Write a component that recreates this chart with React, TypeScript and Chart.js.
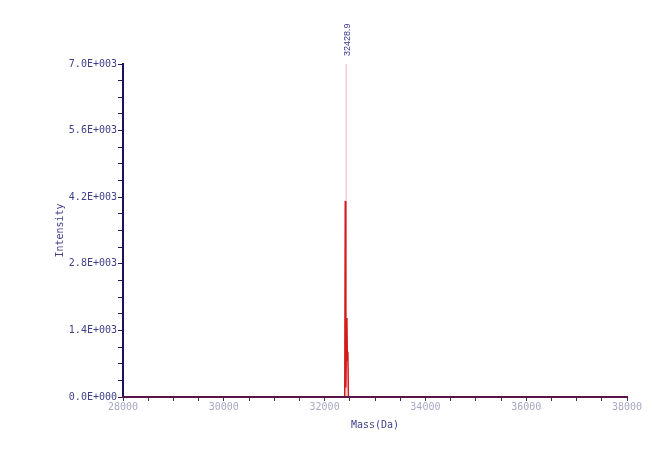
import React, { useEffect, useRef } from 'react';
import { Chart, registerables } from 'chart.js';

Chart.register(...registerables);

// Deconvoluted mass spectrum (Da vs intensity)
const massDa = [28000, 32400, 32410, 32420, 32442, 32452, 32462, 32472, 38000];
const intensity = [0, 0, 4120, 200, 1660, 780, 950, 0, 0];

// Annotated peak marker
const peakMass = 32428.9;
const peakLabel = '32428.9';
const peakMarkerY = [0, 7000];

// Axis ranges / ticks
const xMin = 28000;
const xMax = 38000;
const xTickStep = 500;
const xLabelStep = 2000;
const yMin = 0;
const yMax = 7000;
const yTickStep = 350;
const yLabelStep = 1400;

const xTitle = 'Mass(Da)';
const yTitle = 'Intensity';

function sci(v: number): string {
  if (Math.abs(v) < 1e-9) return '0.0E+000';
  const e = Math.floor(Math.log10(Math.abs(v)) + 1e-9);
  const m = v / Math.pow(10, e);
  return m.toFixed(1) + 'E' + (e < 0 ? '-' : '+') + String(Math.abs(e)).padStart(3, '0');
}

const peakLabelPlugin = {
  id: 'peakLabel',
  afterDatasetsDraw(chart: any) {
    const { ctx, scales } = chart;
    const px = scales.x.getPixelForValue(peakMass);
    const py = scales.y.getPixelForValue(peakMarkerY[1]);
    ctx.save();
    ctx.translate(px + 1, py - 8);
    ctx.rotate(-Math.PI / 2);
    ctx.font = '9px "Liberation Sans", Arial, sans-serif';
    ctx.fillStyle = '#34348a';
    ctx.textAlign = 'left';
    ctx.textBaseline = 'middle';
    ctx.fillText(peakLabel, 0, 0);
    ctx.restore();
  },
};

const bgPlugin = {
  id: 'bg',
  beforeDraw(chart: any) {
    const { ctx, width, height } = chart;
    ctx.save();
    ctx.fillStyle = '#ffffff';
    ctx.fillRect(0, 0, width, height);
    ctx.restore();
  },
};

export default function App() {
  const ref = useRef<HTMLCanvasElement | null>(null);

  useEffect(() => {
    if (!ref.current) return;
    const spectrum = massDa.map((m, i) => ({ x: m, y: intensity[i] }));
    const marker = peakMarkerY.map((v) => ({ x: peakMass, y: v }));
    const mono = '"DejaVu Sans Mono", monospace';

    const chart = new Chart(ref.current, {
      type: 'scatter',
      data: {
        datasets: [
          {
            data: spectrum,
            showLine: true,
            borderColor: '#d41a1a',
            borderWidth: 1.5,
            pointRadius: 0,
            tension: 0,
          },
          {
            data: marker,
            showLine: true,
            borderColor: '#f2b4c4',
            borderWidth: 1,
            pointRadius: 0,
          },
        ],
      },
      options: {
        responsive: false,
        animation: false,
        events: [],
        layout: { padding: { left: 0, top: 64, right: 41, bottom: 0 } },
        plugins: { legend: { display: false }, tooltip: { enabled: false } },
        scales: {
          x: {
            type: 'linear',
            min: xMin,
            max: xMax,
            afterFit(scale: any) {
              scale.height = 53;
            },
            border: { display: true, color: '#5a1448', width: 2, z: 1 },
            grid: {
              display: true,
              drawOnChartArea: false,
              drawTicks: true,
              tickLength: 4,
              tickColor: '#4a2a5a',
              tickWidth: 1,
            },
            ticks: {
              stepSize: xTickStep,
              autoSkip: false,
              maxRotation: 0,
              padding: 0,
              color: '#a8a8c4',
              font: { family: mono, size: 10 },
              callback: (v: any) =>
                Math.round((Number(v) - xMin) / xTickStep) % (xLabelStep / xTickStep) === 0 ? String(v) : '',
            },
            title: {
              display: true,
              text: xTitle,
              color: '#40408a',
              font: { family: mono, size: 10 },
              padding: { top: 0, bottom: 19 },
            },
          },
          y: {
            type: 'linear',
            min: yMin,
            max: yMax,
            afterFit(scale: any) {
              scale.width = 123;
            },
            border: { display: true, color: '#1e0e5e', width: 2 },
            grid: {
              display: true,
              drawOnChartArea: false,
              drawTicks: true,
              tickLength: 5,
              tickColor: '#1e1e5e',
              tickWidth: 1,
            },
            ticks: {
              stepSize: yTickStep,
              autoSkip: false,
              padding: 1,
              color: '#40408a',
              font: { family: mono, size: 10 },
              callback: (v: any) =>
                Math.round(Number(v) / yTickStep) % (yLabelStep / yTickStep) === 0 ? sci(Number(v)) : '',
            },
            title: {
              display: true,
              text: yTitle,
              color: '#40408a',
              font: { family: mono, size: 10 },
              padding: { top: 54, bottom: 0 },
            },
          },
        },
      },
      plugins: [bgPlugin, peakLabelPlugin],
    });

    return () => chart.destroy();
  }, []);

  return (
    <div style={{ position: 'absolute', left: 0, top: 0, width: 668, height: 450, background: '#fff' }}>
      <canvas ref={ref} width={668} height={450} style={{ display: 'block' }} />
    </div>
  );
}
